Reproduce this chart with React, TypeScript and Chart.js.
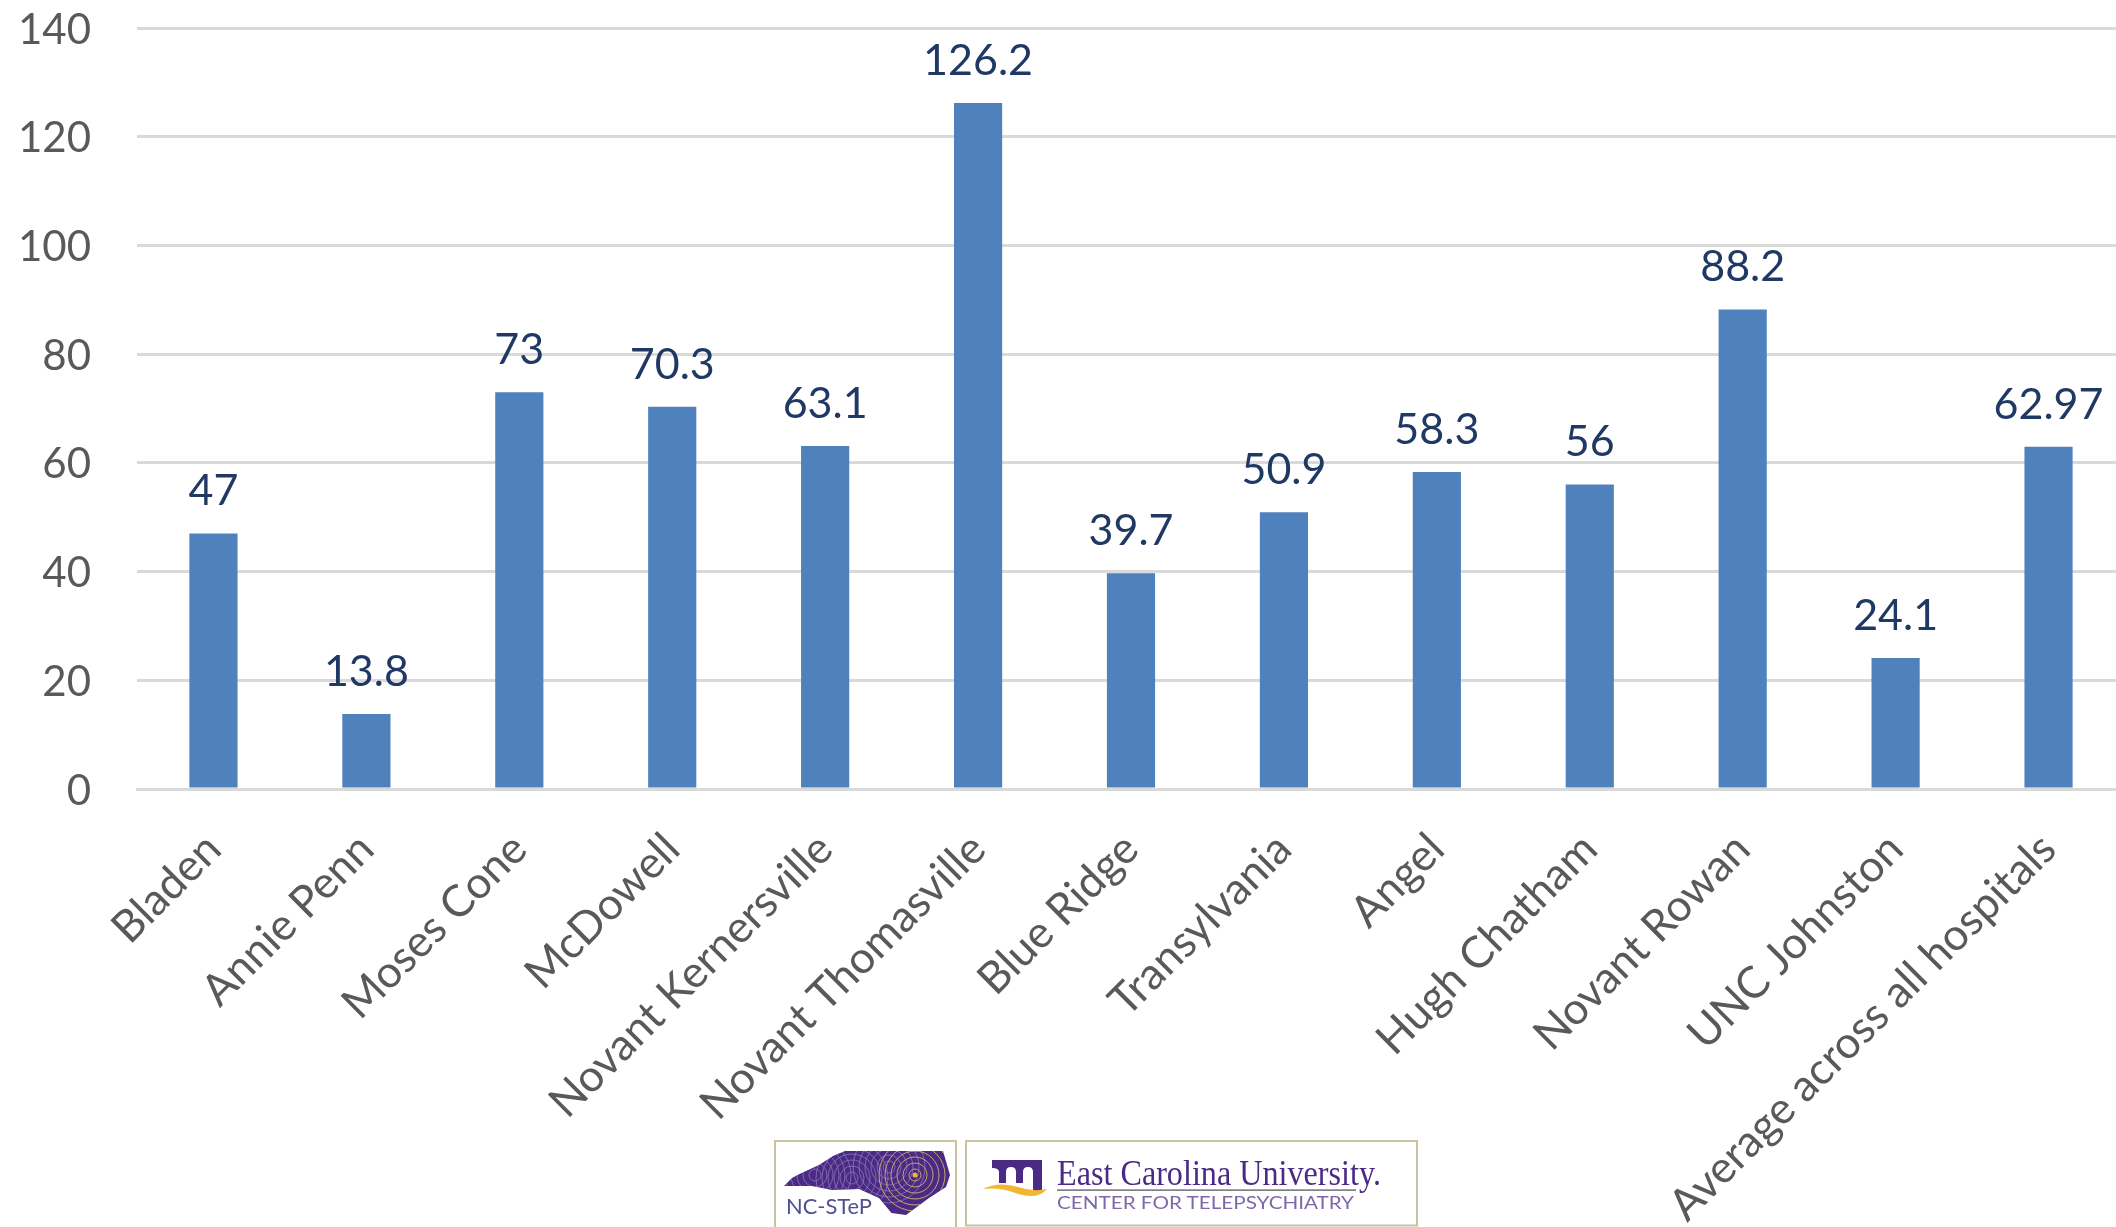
import React, { useEffect, useRef } from "react";
import { Chart, registerables } from "chart.js";

Chart.register(...registerables);

const categories = [
  "Bladen", "Annie Penn", "Moses Cone", "McDowell", "Novant Kernersville",
  "Novant Thomasville", "Blue Ridge", "Transylvania", "Angel", "Hugh Chatham",
  "Novant Rowan", "UNC Johnston", "Average across all hospitals",
];
const values = [47, 13.8, 73, 70.3, 63.1, 126.2, 39.7, 50.9, 58.3, 56, 88.2, 24.1, 62.97];
const FONT = "Lato, 'Open Sans', sans-serif";

const barLabels = {
  id: "barLabels",
  afterDatasetsDraw(chart: any) {
    const { ctx } = chart;
    const meta = chart.getDatasetMeta(0);
    ctx.save();
    ctx.font = `43px ${FONT}`;
    ctx.fillStyle = "#1f3864";
    ctx.textAlign = "center";
    ctx.textBaseline = "middle";
    meta.data.forEach((el: any, i: number) => {
      ctx.fillText(String(values[i]), el.x, el.y - 42);
    });
    ctx.restore();
  },
};

function Logos() {
  const map = "M84,86 L92,78 L99.5,74 L119,65 L133,56 L145,51 L243,51 L250,75 L246,87 L229,98 L206,115 L191.5,113 L179,98 L159,89 L132,90 L112,86 Z";
  const rings = [6, 12, 18, 24, 30, 36];
  const faint = [[115, 75], [152, 78], [189, 67]];
  return (
    <svg
      width={780}
      height={127}
      viewBox="0 0 780 127"
      style={{ position: "absolute", left: 700, top: 1100 }}
    >
      <defs>
        <clipPath id="nc"><path d={map} /></clipPath>
      </defs>
      <rect x={75} y={41} width={181} height={95} fill="#fff" stroke="#c9c3a0" strokeWidth={2} />
      <rect x={266} y={41} width={451} height={84.5} fill="#fff" stroke="#c9c3a0" strokeWidth={2} />
      <path d={map} fill="#4b2a85" />
      <g clipPath="url(#nc)" fill="none">
        {faint.map(([x, y]) =>
          rings.map((r) => (
            <circle key={`${x}-${r}`} cx={x} cy={y} r={r} stroke="#8d78b8" strokeWidth={0.8} />
          ))
        )}
        {rings.map((r) => (
          <circle key={r} cx={215} cy={75} r={r} stroke="#c6a66a" strokeWidth={1} />
        ))}
      </g>
      <circle cx={215} cy={75} r={2.5} fill="#f2b632" />
      <text x={86} y={114} fontFamily={FONT} fontSize={22} fill="#51508f" textLength={86} lengthAdjust="spacingAndGlyphs">NC-STeP</text>
      <path d="M292,60 H342 V91 H333 V72 Q333,67 328,67 Q323,67 323,72 V83 H316 V72 Q316,67 311,67 Q306,67 306,72 V83 H299 V72 Q299,68 292,68 Z" fill="#4b2a85" />
      <path d="M283,89 Q298,81 318,87 Q333,92 347,89 Q338,100 318,94 Q300,87 283,89 Z" fill="#f2b632" />
      <text x={357} y={85} fontFamily="'Liberation Serif', serif" fontSize={36} fill="#4b2a85" textLength={324} lengthAdjust="spacingAndGlyphs">East Carolina University.</text>
      <rect x={357} y={89.5} width={299} height={1.2} fill="#4a4a55" />
      <text x={357} y={109} fontFamily={FONT} fontSize={16.5} fill="#7d68a8" textLength={297} lengthAdjust="spacingAndGlyphs">CENTER FOR TELEPSYCHIATRY</text>
    </svg>
  );
}

export default function App() {
  const ref = useRef<HTMLCanvasElement>(null);
  useEffect(() => {
    const chart = new Chart(ref.current!, {
      type: "bar",
      data: {
        labels: categories,
        datasets: [{
          data: values,
          backgroundColor: "#4f81bd",
          barPercentage: 0.315,
          categoryPercentage: 1,
        }],
      },
      options: {
        animation: false,
        responsive: false,
        devicePixelRatio: 1,
        layout: { padding: { top: 28, right: 0, left: 0, bottom: 0 } },
        plugins: { legend: { display: false }, tooltip: { enabled: false } },
        scales: {
          x: {
            afterFit: (s: any) => { s.height = 1227 - 789; },
            grid: { display: false },
            border: { color: "#d9d9d9", width: 3 },
            ticks: {
              color: "#595959",
              font: { family: FONT, size: 44 },
              minRotation: 45,
              maxRotation: 45,
              autoSkip: false,
              padding: 26,
            },
          },
          y: {
            min: 0,
            max: 140,
            afterFit: (s: any) => { s.width = 137; s.paddingTop = 0; s.paddingBottom = 0; },
            grid: { color: "#d9d9d9", lineWidth: 3, drawTicks: false },
            border: { display: false },
            ticks: {
              stepSize: 20,
              color: "#595959",
              font: { family: FONT, size: 42 },
              padding: 46,
              labelOffset: 2,
            },
          },
        },
      },
      plugins: [barLabels],
    } as any);
    return () => chart.destroy();
  }, []);
  return (
    <div style={{ position: "absolute", left: 0, top: 0, width: 2116, height: 1227, overflow: "hidden", background: "#fff" }}>
      <canvas ref={ref} width={2125} height={1227} style={{ display: "block" }} />
      <Logos />
    </div>
  );
}
